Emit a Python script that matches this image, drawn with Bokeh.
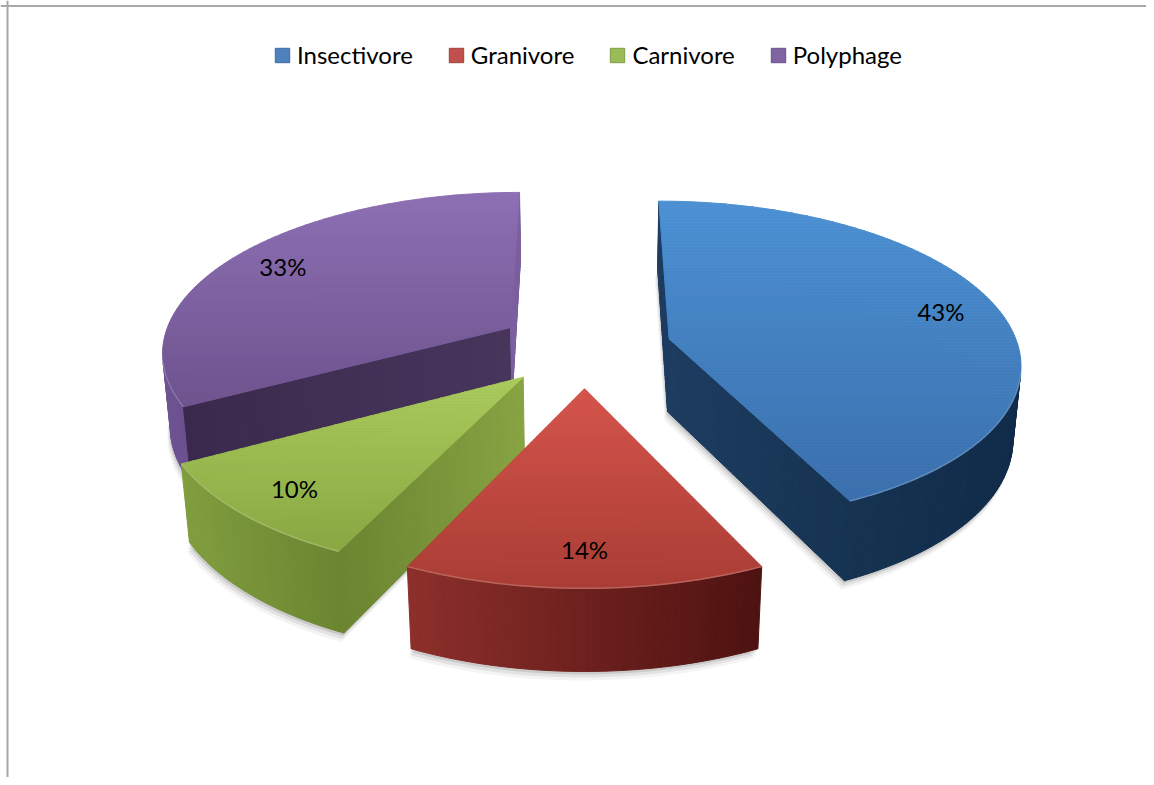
import numpy as np
from bokeh.plotting import figure
from bokeh.models import Range1d, Span, Legend, LegendItem, ColumnDataSource
from bokeh.core.properties import value
from bokeh.embed import file_html
from bokeh.resources import INLINE

# ---------------- data ----------------
categories = ["Insectivore", "Granivore", "Carnivore", "Polyphage"]
shares = [43, 14, 10, 33]
labels = ["43%", "14%", "10%", "33%"]

# ---------------- styles ----------------
legend_fill = ["#4F81BD", "#C0504D", "#9BBB59", "#8064A2"]
legend_line = ["#3a6aa6", "#a33f3c", "#7f9c44", "#67508a"]
top_grad = [("#4b90d3", "#3a6fad"), ("#d5544b", "#a93d35"),
            ("#aacb5d", "#88a742"), ("#8d70b4", "#6e538e")]
rim_grad = [("#163352", "#102b49"), ("#8d2f2b", "#4d1210"),
            ("#819e3f", "#6a8430"), ("#6f5493", "#694f8e")]
cut0_grad = [("#1f3e62", "#1d3b5f"), ("#8d2f2b", "#4d1210"),
             ("#6a8430", "#88a342"), ("#3b294d", "#47355c")]
cut1_grad = [("#1d3c60", "#163352"), ("#8d2f2b", "#4d1210"),
             ("#819e3f", "#6a8430"), ("#7b609f", "#7b609f")]

# ---------------- layout / projection ----------------
W, H = 1146, 777
CX, CY = 584.0, 420.3
FOC = 2195.0
DIST = 6.4
PHI = np.radians(29)
THICK = 0.24
EXPLODE = 0.25
LABEL_R = 0.83
SC, SS = np.cos(PHI), np.sin(PHI)
CAM = np.array([0.0, -DIST * SC, DIST * SS])


def proj(X, Y, Z):
    X = np.asarray(X, float); Y = np.asarray(Y, float); Z = np.asarray(Z, float)
    d = DIST + Y * SC - Z * SS
    return CX + FOC * X / d, CY - FOC * (Y * SS + Z * SC) / d


def hex2rgb(h):
    return np.array([int(h[k:k + 2], 16) for k in (1, 3, 5)], float)


def mix(c1, c2, t):
    t = min(max(t, 0.0), 1.0)
    c = hex2rgb(c1) * (1 - t) + hex2rgb(c2) * t
    return "#%02x%02x%02x" % tuple(int(round(v)) for v in c)


def clip_half(poly, y0, keep_ge):
    out = []
    n = len(poly)
    for k in range(n):
        P = poly[k]; Q = poly[(k + 1) % n]
        inP = (P[1] >= y0) if keep_ge else (P[1] <= y0)
        inQ = (Q[1] >= y0) if keep_ge else (Q[1] <= y0)
        if inP:
            out.append(P)
        if inP != inQ:
            t = (y0 - P[1]) / (Q[1] - P[1])
            out.append((P[0] + t * (Q[0] - P[0]), y0))
    return out


p = figure(width=W, height=H, x_range=Range1d(0, W), y_range=Range1d(H, 0),
           output_backend="svg", toolbar_location=None, min_border=0,
           x_axis_location=None, y_axis_location=None)
p.grid.visible = False
p.outline_line_color = None
p.background_fill_color = "white"
p.border_fill_color = "white"

p.add_layout(Span(location=7, dimension="height", line_color="#a8a8a8", line_width=2))
p.add_layout(Span(location=5.5, dimension="width", line_color="#a8a8a8", line_width=2))

frac = np.array(shares, float) / sum(shares)
ends = 90 - 360 * np.cumsum(frac)
starts = np.r_[90.0, ends[:-1]]
N = len(shares)

offs = []
for i in range(N):
    b = np.radians((starts[i] + ends[i]) / 2)
    offs.append((EXPLODE * np.cos(b), EXPLODE * np.sin(b)))


def patches(xs, ys, cols, alpha=1.0, stroke=True):
    src = ColumnDataSource(dict(xs=xs, ys=ys, c=cols))
    if stroke:
        p.patches("xs", "ys", source=src, fill_color="c", line_color="c", line_width=1,
                  fill_alpha=alpha, line_alpha=alpha)
    else:
        p.patches("xs", "ys", source=src, fill_color="c", line_color=None, fill_alpha=alpha)


# ---- shadows ----
for dx, dy, al in [(-1, 3, 0.10), (-2, 6, 0.07), (-3, 9, 0.045)]:
    sx_all, sy_all = [], []
    for i in range(N):
        ox, oy = offs[i]
        th = np.radians(np.linspace(starts[i], ends[i], 120))
        X = np.r_[ox, ox + np.cos(th)]; Y = np.r_[oy, oy + np.sin(th)]
        sx, sy = proj(X, Y, np.zeros_like(X))
        sx_all.append(list(sx + dx)); sy_all.append(list(sy + dy))
    patches(sx_all, sy_all, ["#000000"] * N, alpha=al, stroke=False)

# ---- slices, back to front ----
order = sorted(range(N), key=lambda i: -(DIST + offs[i][1] * SC))
for i in order:
    ox, oy = offs[i]
    a0, a1 = starts[i], ends[i]
    nstep = max(10, int(abs(a0 - a1) / 1.0) + 1)
    th = np.radians(np.linspace(a0, a1, nstep))

    # outer rim
    qx, qy, qm = [], [], []
    hl_x, hl_y = [], []
    for k in range(nstep - 1):
        tm = 0.5 * (th[k] + th[k + 1])
        P = np.array([ox + np.cos(tm), oy + np.sin(tm), THICK / 2])
        nrm = np.array([np.cos(tm), np.sin(tm), 0.0])
        if nrm @ (CAM - P) <= 0:
            continue
        tt = np.array([th[k], th[k + 1], th[k + 1], th[k]])
        X = ox + np.cos(tt); Y = oy + np.sin(tt)
        Z = np.array([THICK, THICK, 0, 0])
        sx, sy = proj(X, Y, Z)
        qx.append(list(sx)); qy.append(list(sy)); qm.append(sx.mean())
        hl_x.append(list(sx[:2])); hl_y.append(list(sy[:2]))
    if qx:
        lo, hi = min(min(a) for a in qx), max(max(a) for a in qx)
        cols = [mix(rim_grad[i][0], rim_grad[i][1], (m - lo) / max(hi - lo, 1)) for m in qm]
        patches(qx, qy, cols)

    # radial cut faces
    for ang, nrm, grad in [(a0, (-np.sin(np.radians(a0)), np.cos(np.radians(a0))), cut0_grad[i]),
                           (a1, (np.sin(np.radians(a1)), -np.cos(np.radians(a1))), cut1_grad[i])]:
        u = np.array([np.cos(np.radians(ang)), np.sin(np.radians(ang))])
        P = np.array([ox + 0.5 * u[0], oy + 0.5 * u[1], THICK / 2])
        if np.array([nrm[0], nrm[1], 0.0]) @ (CAM - P) <= 0:
            continue
        M = 40
        fx, fy, fm = [], [], []
        for j in range(M):
            r = np.array([j / M, (j + 1) / M, (j + 1) / M, j / M])
            X = ox + r * u[0]; Y = oy + r * u[1]
            Z = np.array([THICK, THICK, 0, 0])
            sx, sy = proj(X, Y, Z)
            fx.append(list(sx)); fy.append(list(sy)); fm.append(sx.mean())
        lo, hi = min(min(a) for a in fx), max(max(a) for a in fx)
        cols = [mix(grad[0], grad[1], (m - lo) / max(hi - lo, 1)) for m in fm]
        patches(fx, fy, cols)

    # top face with vertical gradient
    X = np.r_[ox, ox + np.cos(th)]; Y = np.r_[oy, oy + np.sin(th)]
    sx, sy = proj(X, Y, np.full_like(X, THICK))
    poly = list(zip(sx, sy))
    ymin, ymax = sy.min(), sy.max()
    step = 3.0
    bx, by, bc = [], [], []
    yb = ymin
    while yb < ymax:
        band = clip_half(clip_half(poly, yb, True), yb + step, False)
        if len(band) >= 3:
            bx.append([q[0] for q in band]); by.append([q[1] for q in band])
            bc.append(mix(top_grad[i][0], top_grad[i][1], (yb + step / 2 - ymin) / (ymax - ymin)))
        yb += step
    patches(bx, by, bc)

    # light bevel along the front top edge
    if hl_x:
        hl = mix(top_grad[i][1], "#ffffff", 0.25)
        p.multi_line(hl_x, hl_y, line_color=hl, line_width=1.5, line_alpha=0.8)

label_x, label_y = [], []
for i in range(N):
    ox, oy = offs[i]
    b = np.radians((starts[i] + ends[i]) / 2)
    lx, ly = proj(ox + LABEL_R * np.cos(b), oy + LABEL_R * np.sin(b), THICK)
    label_x.append(float(lx)); label_y.append(float(ly))

p.text(x=label_x, y=label_y, text=labels, text_align="center", text_baseline="middle",
       text_font=value("Lato"), text_font_size="24px", text_color="#000000")

# ---- legend (proxy renderers sit outside the visible range) ----
items = []
for i, c in enumerate(categories):
    r = p.rect(x=[-1000], y=[-1000], width=1, height=1,
               fill_color=legend_fill[i], line_color=legend_line[i])
    items.append(LegendItem(label=c, renderers=[r]))
leg = Legend(items=items, orientation="horizontal", location=(273, 708),
             glyph_width=18, glyph_height=18, label_standoff=6, spacing=34,
             padding=0, margin=0, border_line_color=None, background_fill_alpha=0,
             label_text_font="Lato", label_text_font_size="24px", label_text_color="#000000")
p.add_layout(leg)

open("out.html", "w").write(file_html(p, INLINE))
